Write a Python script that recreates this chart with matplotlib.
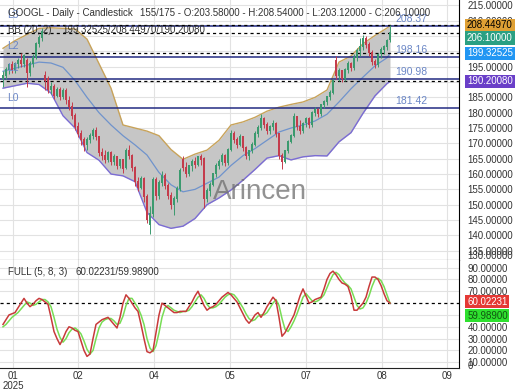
"""GOOGL daily candlestick chart with Bollinger Bands, support levels and a
full stochastic panel underneath. Saved as out.png."""

import matplotlib
matplotlib.use('Agg')
import matplotlib.pyplot as plt
import numpy as np

# ---- price data, one value per trading day (bar 0..129) ----
opens = [191, 192, 194, 195.5, 194, 196, 197, 196, 197, 193,
         196, 198, 202.5, 204.5, 192, 191, 187.5, 188.5, 185.5, 187.5,
         185, 187, 184, 182, 179, 175.5, 173, 171, 169.5, 171,
         172.5, 174, 172, 167, 166, 164.5, 167, 164, 165.5, 162.5,
         164.5, 162, 167.5, 166, 162, 157.5, 155.5, 158.5, 152.5, 143.5,
         147, 158, 153, 157, 159.5, 156, 153, 150, 152, 155,
         164.5, 162, 160, 162.5, 164, 163, 165.5, 165, 152, 154.5,
         156.5, 160, 162.5, 164, 166, 163.5, 168, 173, 171, 169.5,
         172, 168.5, 166, 167.5, 169.5, 173, 175, 178, 176, 174,
         175.5, 176.5, 173, 166, 164, 167.5, 170.5, 172.5, 178.5, 175.5,
         174, 176.5, 178, 176, 180, 181, 179.5, 182.5, 183.5, 185,
         186.5, 197, 192, 193.5, 191, 194, 196, 194.5, 198, 200,
         201.5, 204, 202, 199.5, 196.5, 195.5, 199, 200.5, 201.5, 203.58]
highs = [193.5, 195, 196, 197, 196.5, 198, 199.5, 199, 198, 197,
         199, 203, 205.5, 207.5, 193.5, 192, 190, 189.5, 188.5, 188.5,
         188, 188, 185.5, 183.5, 180, 177, 174.5, 172, 172, 173.5,
         175, 175.5, 172.5, 168.5, 168, 167.5, 167.5, 166.5, 166, 165,
         165, 168.5, 169.5, 166.5, 162.5, 159, 159.5, 159, 153.5, 149.5,
         159, 159, 158, 161, 160.5, 157, 154, 153, 156, 162,
         166, 164, 163, 165, 165.5, 166, 166.5, 165.5, 155.5, 157.5,
         160.5, 163.5, 165, 167, 166.5, 168.5, 174.5, 174, 172, 173,
         172.5, 169, 168, 170.5, 174, 176, 179.5, 178.5, 177, 176,
         177.5, 177, 173.5, 167, 168, 171, 173, 180, 179, 177.5,
         177, 178.5, 178.5, 180.5, 182, 181.5, 183, 184, 185.5, 187.5,
         191, 198.5, 194.5, 194, 194.5, 197, 196.5, 199, 201, 204.5,
         205.5, 205, 203, 200.5, 197.5, 199.5, 201.5, 202, 204, 208.54]
lows = [188.5, 191, 192.5, 193, 193, 194.5, 195, 195, 188.5, 192,
        195, 197.5, 201.5, 203.5, 187.5, 186.5, 186, 184.5, 185, 184,
        184.5, 183, 181, 178, 174.5, 172, 169.5, 167.5, 168, 170,
        171.5, 171, 166, 164.5, 163.5, 164, 163, 163, 161.5, 162,
        160.5, 161.5, 165, 161, 156, 154.5, 155, 151, 144, 140.5,
        146, 151.5, 152, 156, 155, 152, 148.5, 146.5, 151, 154.5,
        161, 159, 159.5, 161, 162, 162.5, 163, 149, 151, 153,
        156, 159, 161.5, 163, 162.5, 163, 167.5, 170, 168.5, 169,
        167.5, 165, 164.5, 167, 169, 172, 174.5, 175, 173, 173,
        174.5, 172, 165, 161.5, 163.5, 167, 170, 172, 174.5, 173,
        173.5, 175.5, 175, 175.5, 179, 178.5, 179, 181.5, 182.5, 184,
        186, 191, 190.5, 190, 190.5, 193, 193.5, 194, 197, 198.5,
        200.5, 201, 198.5, 195.5, 194.5, 195, 198, 199, 200.5, 203.12]
closes = [192, 194, 195.5, 194, 196, 197, 196, 198.5, 193, 196,
          198, 202.5, 204.5, 206.5, 190.5, 187.5, 188.5, 185.5, 187.5, 185,
          187, 184, 182, 179, 175.5, 173, 171, 169.5, 171, 172.5,
          174, 172, 167, 166, 164.5, 167, 164, 165.5, 162.5, 164.5,
          161.5, 167.5, 166, 162, 157.5, 155.5, 158.5, 152.5, 145, 147,
          158, 153, 157, 159.5, 156, 153, 150, 152, 155, 161,
          162, 160, 162.5, 164, 163, 165.5, 164.5, 152, 154.5, 156.5,
          160, 162.5, 164, 166, 163.5, 168, 173, 171, 169.5, 172,
          168.5, 166, 167.5, 169.5, 173, 175, 178, 176, 174, 175.5,
          176.5, 173, 166, 164, 167.5, 170.5, 172.5, 178.5, 175.5, 174,
          176.5, 178, 176, 180, 181, 179.5, 182.5, 183.5, 185, 186.5,
          190.5, 192, 193.5, 191, 194, 196, 194.5, 198, 200, 201.5,
          204, 202, 199.5, 196.5, 195.5, 199, 200.5, 201.5, 203.5, 206.1]

# ---- Bollinger Bands (20, 2), read every 4 bars ----
bb_bars = [0, 4, 8, 12, 16, 20, 24, 28, 32, 36, 40, 44, 48, 52, 56, 60, 64,
           68, 72, 76, 80, 84, 88, 92, 96, 100, 104, 108, 112, 116, 120, 124,
           128, 129]
bb_upper = [201, 203.5, 205.5, 207.5, 207.7, 207.5, 207.3, 204, 196, 188,
            176, 175, 174, 172.5, 168, 164.8, 166.5, 167.8, 171, 176, 177,
            178.5, 180.5, 181.8, 182.7, 183.5, 185, 187.4, 196.5, 198.5,
            202.5, 205.2, 207.6, 208.4497]
bb_middle = [193.5, 194.5, 195.5, 196.5, 196.2, 194.8, 190.5, 185, 180, 176,
             172.5, 169.5, 166.2, 160.5, 156.5, 154.2, 155, 157, 159, 162.8,
             166, 168.3, 171, 173.7, 175, 176, 177.3, 179.5, 183.5, 187.8,
             191.6, 195.3, 197.9, 199.32525]
bb_lower = [188, 188.8, 189.6, 189.2, 186.4, 179, 175, 167, 164.5, 160,
            159.4, 157.5, 147.5, 143.5, 142.3, 143, 145.5, 150, 152.2, 154.8,
            158, 161.5, 165.2, 166, 164.6, 165.6, 166, 165.9, 170.5, 173.5,
            179.8, 185.5, 189.5, 190.2008]

# ---- support / resistance levels ----
level_names = ['L0', 'L1', 'L2', 'L3']
level_values = [181.42, 190.98, 198.16, 208.37]

# ---- full stochastic (5, 8, 3), one value per bar ----
stoch_k = [42, 46, 50, 51, 52, 56, 60, 64, 60, 57,
           59, 62, 64, 63, 61, 59, 48, 36, 30, 25,
           30, 36, 40, 39, 37, 36, 28, 20, 15, 17,
           30, 42, 44, 46, 47, 48, 45, 42, 39, 48,
           60, 67, 64, 60, 56, 53, 42, 30, 19, 18,
           20, 35, 50, 60, 58, 56, 54, 52, 52, 53,
           53, 53, 57, 61, 66, 70, 64, 58, 54, 56,
           57, 59, 62, 65, 67, 69, 67, 64, 61, 56,
           51, 46, 43, 46, 50, 52, 48, 52, 57, 61,
           65, 62, 48, 32, 35, 40, 45, 50, 58, 66,
           72, 66, 60, 61, 63, 64, 65, 72, 80, 85,
           87, 84, 80, 77, 76, 74, 66, 54, 54, 57,
           60, 65, 74, 82, 82, 80, 75, 68, 62, 60.02231]
stoch_d = [40, 42, 45, 48, 50, 52, 55, 58, 61, 60,
           58, 59, 61, 63, 63, 61, 57, 48, 38, 31,
           27, 30, 35, 38, 39, 37, 34, 28, 21, 17,
           20, 30, 39, 44, 46, 47, 47, 45, 42, 43,
           49, 58, 64, 64, 60, 56, 50, 42, 30, 22,
           19, 24, 35, 48, 56, 58, 56, 54, 53, 52,
           53, 53, 54, 57, 61, 65, 67, 64, 59, 56,
           56, 57, 59, 62, 65, 67, 68, 67, 64, 60,
           56, 51, 47, 45, 46, 49, 50, 50, 52, 56,
           60, 63, 58, 47, 38, 36, 40, 45, 51, 58,
           65, 68, 65, 62, 61, 62, 64, 67, 73, 79,
           84, 86, 84, 80, 77, 75, 72, 65, 58, 55,
           56, 60, 66, 74, 80, 81, 79, 74, 67, 59.989]

# ---- axes ticks ----
month_bars = [3.3, 25, 50.3, 75.7, 101, 126.3, 148]
month_labels = ['01\n2025', '02', '04', '05', '07', '08', '09']
# price / stochastic labels that are not hidden behind the value boxes
price_ticks = [135, 140, 145, 150, 155, 160, 165, 170, 175, 180, 185, 195, 210, 215]
stoch_ticks = [10, 20, 30, 40, 70, 80, 90]

GREEN = '#3b9a6e'
RED = '#c43c4c'
TEXT = '#333333'
FONT = 7


def configure_plot():
    plt.rcParams.update({
        'font.family': ['Liberation Sans', 'DejaVu Sans'],
        'font.size': FONT,
    })


def draw_candles(ax):
    x = np.arange(len(closes))
    o = np.array(opens)
    c = np.array(closes)
    colors = np.where(c >= o, GREEN, RED)
    ax.vlines(x, lows, highs, colors=colors, linewidth=0.7, zorder=4)
    ax.bar(x, np.abs(c - o) + 0.3, bottom=np.minimum(o, c), width=0.65,
           color=colors, linewidth=0, zorder=4)


def draw_bands(ax):
    ax.fill_between(bb_bars, bb_lower, bb_upper, color='#c6c6c6', lw=0, zorder=1)
    ax.plot(bb_bars, bb_upper, color='#c8a35a', lw=1.0, zorder=2)
    ax.plot(bb_bars, bb_lower, color='#7b6cd4', lw=1.0, zorder=2)
    ax.plot(bb_bars, bb_middle, color='#6f93cc', lw=0.9, zorder=2)


def draw_levels(ax):
    for name, val in zip(level_names, level_values):
        ax.axhline(val, color='#232b82', lw=1.1, zorder=3)
        ax.annotate(name, xy=(7 / 459, val), xycoords=ax.get_yaxis_transform(),
                    xytext=(0, 4), textcoords='offset points', va='bottom',
                    ha='left', color='#6a86c6', fontsize=FONT + 0.5, zorder=5)
        ax.annotate(f'{val:.2f}', xy=(395 / 459, val), xycoords=ax.get_yaxis_transform(),
                    xytext=(0, 1.5), textcoords='offset points', va='bottom',
                    ha='left', color='#6a86c6', fontsize=FONT + 0.5, zorder=5)
    for val in [bb_upper[-1], closes[-1], bb_middle[-1], bb_lower[-1]]:
        ax.axhline(val, color='black', lw=0.9, ls=(0, (2.5, 2.5)), zorder=3)


def value_box(ax, y, text, face, fg, dy=0):
    ax.annotate(text, xy=(1, y), xycoords=ax.get_yaxis_transform(),
                xytext=(5.8, dy), textcoords='offset points', va='center',
                ha='left', color=fg, fontsize=FONT, annotation_clip=False,
                bbox=dict(boxstyle='square,pad=0.18', fc=face, ec='none'), zorder=10)


def side_label(ax, y, text):
    ax.annotate(text, xy=(1, y), xycoords=ax.get_yaxis_transform(),
                xytext=(6.3, 0), textcoords='offset points', va='center',
                color=TEXT, fontsize=FONT, annotation_clip=False)


def style_axis(ax, yticks):
    ax.set_xlim(-1, 152)
    ax.set_xticks(month_bars)
    ax.yaxis.tick_right()
    ax.set_yticks(yticks)
    ax.set_yticklabels(['%.5f' % v for v in yticks])
    ax.tick_params(axis='y', length=0, pad=6.3, labelcolor=TEXT, labelsize=FONT)
    ax.tick_params(axis='x', length=0, pad=2.5, labelcolor=TEXT, labelsize=FONT)
    ax.grid(True, color='#e2e2e2', lw=0.8)
    ax.set_axisbelow(True)
    ax.spines['left'].set_visible(False)
    ax.spines['top'].set_visible(False)
    ax.spines['right'].set_color('black')
    ax.spines['bottom'].set_color('#222222')


def main():
    configure_plot()
    fig = plt.figure(figsize=(5.2, 3.9), dpi=100)
    ax = fig.add_axes([0, 1 - 260 / 390, 459 / 520, 260 / 390])
    ax2 = fig.add_axes([0, 1 - 368 / 390, 459 / 520, 108 / 390])

    # price panel
    draw_bands(ax)
    draw_candles(ax)
    draw_levels(ax)
    style_axis(ax, price_ticks)
    ax.set_ylim(131.97, 216.75)
    ax.set_xticklabels([])
    ax.grid(True, axis='y', color='#e2e2e2', lw=0.8)
    for v in [190, 200, 205]:
        ax.axhline(v, color='#e2e2e2', lw=0.8, zorder=0)
    side_label(ax, 133.2, '130.00000')
    value_box(ax, bb_upper[-1], '208.44970', '#dfa034', 'black')
    value_box(ax, closes[-1], '206.10000', '#2aa083', 'white', dy=-4)
    value_box(ax, bb_middle[-1], '199.32525', '#2196f3', 'white')
    value_box(ax, bb_lower[-1], '190.20080', '#6a3fc8', 'white')

    # stochastic panel
    bars = np.arange(len(stoch_k))
    ax2.plot(bars, stoch_d, color='#77dd55', lw=1.1, zorder=3)
    ax2.plot(bars, stoch_k, color='#c83a3a', lw=1.1, zorder=4)
    ax2.axhline(60, color='black', lw=0.9, ls=(0, (2.5, 2.5)), zorder=2)
    style_axis(ax2, stoch_ticks)
    ax2.axhline(50, color='#e2e2e2', lw=0.8, zorder=0)
    ax2.set_ylim(5.2, 96.4)
    ax2.set_xticklabels(month_labels, linespacing=0.95)
    side_label(ax2, 7.3, '0')
    value_box(ax2, stoch_k[-1], '60.02231', '#e53935', 'white', dy=1)
    value_box(ax2, stoch_d[-1], '59.98900', '#2ee02e', '#115511', dy=-9)

    # header texts
    fig.text(8 / 520, 1 - 13 / 390, 'GOOGL - Daily - Candlestick', va='center', color=TEXT, fontsize=FONT)
    fig.text(140 / 520, 1 - 13 / 390, '155/175 - O:203.58000 - H:208.54000 - L:203.12000 - C:206.10000',
             va='center', color=TEXT, fontsize=FONT)
    fig.text(8 / 520, 1 - 30 / 390, 'BB (20, 2)', va='center', color=TEXT, fontsize=FONT)
    fig.text(62 / 520, 1 - 30 / 390, '199.32525/208.44970/190.20080', va='center', color=TEXT, fontsize=FONT)
    fig.text(8 / 520, 1 - 272 / 390, 'FULL (5, 8, 3)', va='center', color=TEXT, fontsize=FONT)
    fig.text(76 / 520, 1 - 272 / 390, '60.02231/59.98900', va='center', color=TEXT, fontsize=FONT)

    # watermark
    fig.text(259.5 / 520, 1 - 192 / 390, 'Arincen', ha='center', va='center',
             fontsize=20, color='#6e6e6e', alpha=0.75, zorder=3)

    fig.savefig('out.png', dpi=100, facecolor='white')


if __name__ == "__main__":
    main()
